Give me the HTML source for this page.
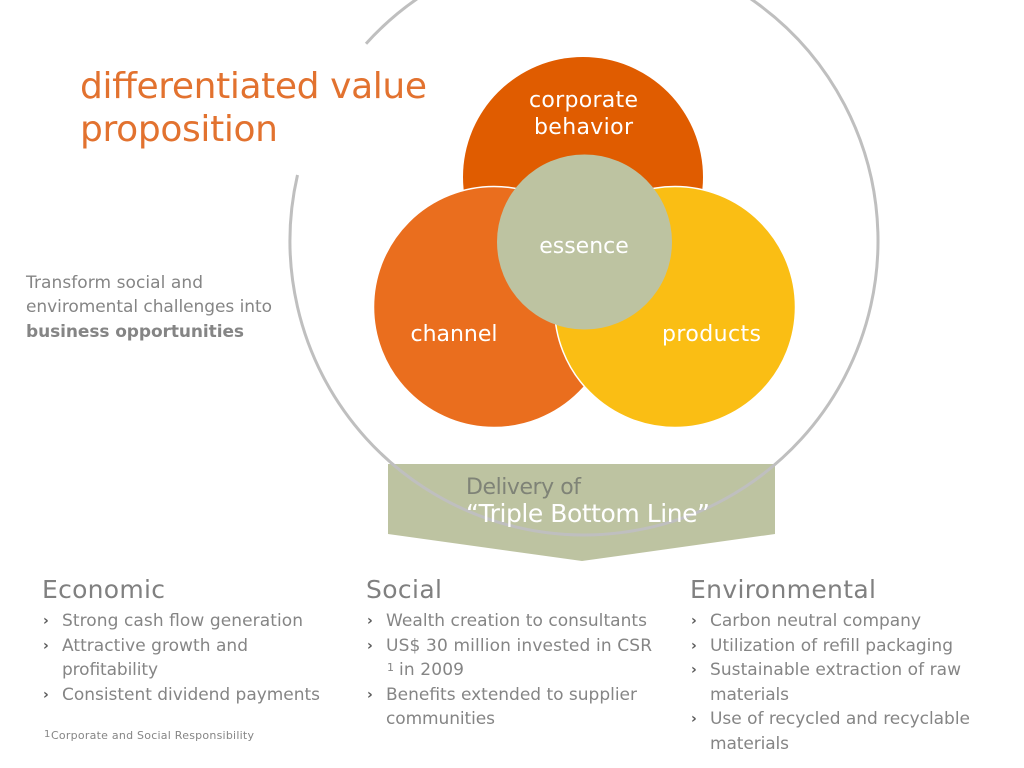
<!DOCTYPE html>
<html><head><meta charset="utf-8"><style>
html,body{margin:0;padding:0;background:#fff}
svg{display:block}
text{font-family:"DejaVu Sans",sans-serif}
.b{font-size:17px;fill:#858585}
.h{font-size:25px;fill:#808080}
.m{font-size:14px;font-weight:bold;fill:#595959}
.w{fill:#fff}
</style></head><body>
<svg width="1024" height="768" viewBox="0 0 1024 768" xmlns="http://www.w3.org/2000/svg">
<rect width="1024" height="768" fill="#fff"/>
<polygon points="388,464 775,464 775,534 582,561 388,534" fill="#bdc3a1"/>
<path d="M297.500 175 A294 294 0 1 0 366 43.700" fill="none" stroke="#bfbfbf" stroke-width="3"/>
<circle cx="583" cy="177" r="120" fill="#e05c00"/>
<circle cx="494" cy="307" r="120.500" fill="#ea6e1e" stroke="#fff" stroke-width="1.500"/>
<circle cx="675" cy="307" r="120.500" fill="#fabe14" stroke="#fff" stroke-width="1.500"/>
<ellipse cx="584.500" cy="242" rx="87.500" ry="87.500" fill="#bdc3a1"/>
<text x="80" y="98" font-size="36" fill="#e2722f" textLength="347">differentiated value</text>
<text x="80" y="141" font-size="36" fill="#e2722f" textLength="198">proposition</text>
<text x="529" y="107" font-size="22" class="w" textLength="109">corporate</text>
<text x="534" y="134" font-size="22" class="w" textLength="99">behavior</text>
<text x="584" y="253" font-size="22" class="w" text-anchor="middle">essence</text>
<text x="454" y="341" font-size="22" class="w" text-anchor="middle">channel</text>
<text x="662" y="341" font-size="22" class="w" textLength="99">products</text>
<text x="26" y="288" class="b" textLength="177">Transform social and</text>
<text x="26" y="312" class="b" textLength="246">enviromental challenges into</text>
<text x="26" y="337" class="b" font-weight="bold" textLength="218">business opportunities</text>
<text x="466" y="494" font-size="22" fill="#7f8377" textLength="115">Delivery of</text>
<text x="466" y="522" font-size="25" class="w" textLength="244">“Triple Bottom Line”</text>
<text x="42" y="598" class="h" textLength="123">Economic</text>
<text x="366" y="598" class="h" textLength="76">Social</text>
<text x="690" y="598" class="h" textLength="186">Environmental</text>
<text x="43" y="625" class="m">›</text><text x="43" y="650" class="m">›</text><text x="43" y="699" class="m">›</text>
<text x="367" y="625" class="m">›</text><text x="367" y="650" class="m">›</text><text x="367" y="699" class="m">›</text>
<text x="691" y="625" class="m">›</text><text x="691" y="650" class="m">›</text><text x="691" y="674" class="m">›</text><text x="691" y="723" class="m">›</text>
<text x="62" y="626" class="b" textLength="241">Strong cash flow generation</text>
<text x="62" y="651" class="b" textLength="186">Attractive growth and</text>
<text x="62" y="675" class="b" textLength="96">profitability</text>
<text x="62" y="700" class="b" textLength="258">Consistent dividend payments</text>
<text x="44" y="737" font-size="10" fill="#858585">1</text>
<text x="51" y="739" font-size="11" fill="#858585" textLength="203">Corporate and Social Responsibility</text>
<text x="386" y="626" class="b" textLength="261">Wealth creation to consultants</text>
<text x="386" y="651" class="b" textLength="266">US$ 30 million invested in CSR</text>
<text x="387" y="671" font-size="11" fill="#858585">1</text>
<text x="399" y="675" class="b" textLength="65">in 2009</text>
<text x="386" y="700" class="b" textLength="251">Benefits extended to supplier</text>
<text x="386" y="724" class="b" textLength="109">communities</text>
<text x="710" y="626" class="b" textLength="211">Carbon neutral company</text>
<text x="710" y="651" class="b" textLength="243">Utilization of refill packaging</text>
<text x="710" y="675" class="b" textLength="251">Sustainable extraction of raw</text>
<text x="710" y="700" class="b" textLength="79">materials</text>
<text x="710" y="724" class="b" textLength="260">Use of recycled and recyclable</text>
<text x="710" y="749" class="b" textLength="79">materials</text>
</svg>
</body></html>
